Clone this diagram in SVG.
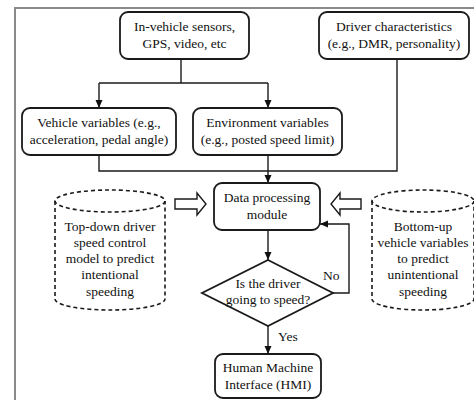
<svg xmlns="http://www.w3.org/2000/svg" width="474" height="400" viewBox="0 0 474 400">
<defs>
<marker id="ah" viewBox="0 0 8 8" refX="8" refY="4" markerWidth="8" markerHeight="8" markerUnits="userSpaceOnUse" orient="auto">
<path d="M0,0.5 L8,4 L0,7.5 z" fill="#111"/>
</marker>
<style>
.box{fill:#fff;stroke:#1a1a1a;stroke-width:1.8}
.cyl{fill:none;stroke:#1a1a1a;stroke-width:1.6;stroke-dasharray:4 3}
.ln{fill:none;stroke:#1a1a1a;stroke-width:1.4}
.ha{fill:#fff;stroke:#1a1a1a;stroke-width:1.4}
text{font-family:"Liberation Serif","Times New Roman",serif;font-size:13.5px;fill:#111;text-anchor:middle}
</style>
</defs>
<rect width="474" height="400" fill="#fff"/>
<path d="M15,400 V8 H474" fill="none" stroke="#8a8a8a" stroke-width="2"/>
<g id="connectors">
<path class="ln" d="M181,59 V83"/>
<path class="ln" d="M99,83 H268"/>
<path class="ln" d="M99,83 V108" marker-end="url(#ah)"/>
<path class="ln" d="M268,83 V108" marker-end="url(#ah)"/>
<path class="ln" d="M397,59 V171 H99 V155"/>
<path class="ln" d="M268,155 V183" marker-end="url(#ah)"/>
<path class="ln" d="M268,230 V260" marker-end="url(#ah)"/>
<path class="ln" d="M333,293 H349 V224 H320" marker-end="url(#ah)"/>
<path class="ln" d="M268,326 V354" marker-end="url(#ah)"/>
<text x="323" y="280" style="text-anchor:start">No</text>
<text x="278" y="341" style="text-anchor:start">Yes</text>
<polygon class="ha" points="175,199 197,199 197,193 206,204 197,215 197,209 175,209"/>
<polygon class="ha" points="361,199 340,199 340,193 331,204 340,215 340,209 361,209"/>
</g>
<g id="sensors">
<rect class="box" x="120" y="12" width="129" height="47" rx="8"/>
<text x="184.5" y="31">In-vehicle sensors,</text>
<text x="184.5" y="48">GPS, video, etc</text>
</g>
<g id="driver">
<rect class="box" x="319" y="12" width="150" height="47" rx="8"/>
<text x="394" y="31">Driver characteristics</text>
<text x="394" y="48">(e.g., DMR, personality)</text>
</g>
<g id="vehicle">
<rect class="box" x="22" y="108" width="154" height="47" rx="8"/>
<text x="99" y="127">Vehicle variables (e.g.,</text>
<text x="99" y="144">acceleration, pedal angle)</text>
</g>
<g id="environment">
<rect class="box" x="193" y="108" width="149" height="47" rx="8"/>
<text x="267.5" y="127">Environment variables</text>
<text x="267.5" y="144">(e.g., posted speed limit)</text>
</g>
<g id="processing">
<rect class="box" x="214" y="183" width="106" height="47" rx="8"/>
<text x="267" y="202">Data processing</text>
<text x="267" y="219">module</text>
</g>
<g id="decision">
<polygon class="box" points="268,260 333,293 268,326 202,293"/>
<text x="268" y="288">Is the driver</text>
<text x="268" y="304">going to speed?</text>
</g>
<g id="hmi">
<rect class="box" x="215" y="354" width="106" height="44" rx="8"/>
<text x="268" y="372">Human Machine</text>
<text x="268" y="389">Interface (HMI)</text>
</g>
<g id="topdown">
<path class="cyl" d="M55,201 V299 A55,11 0 0 0 165,299 V201"/>
<ellipse class="cyl" cx="110" cy="201" rx="55" ry="11"/>
<text x="110" y="231">Top-down driver</text>
<text x="110" y="247">speed control</text>
<text x="110" y="263">model to predict</text>
<text x="110" y="279">intentional</text>
<text x="110" y="296">speeding</text>
</g>
<g id="bottomup">
<path class="cyl" d="M372,201 V299 A51,11 0 0 0 474,299 V201"/>
<ellipse class="cyl" cx="423" cy="201" rx="51" ry="11"/>
<text x="423" y="231">Bottom-up</text>
<text x="423" y="247">vehicle variables</text>
<text x="423" y="263">to predict</text>
<text x="423" y="279">unintentional</text>
<text x="423" y="296">speeding</text>
</g>
</svg>
